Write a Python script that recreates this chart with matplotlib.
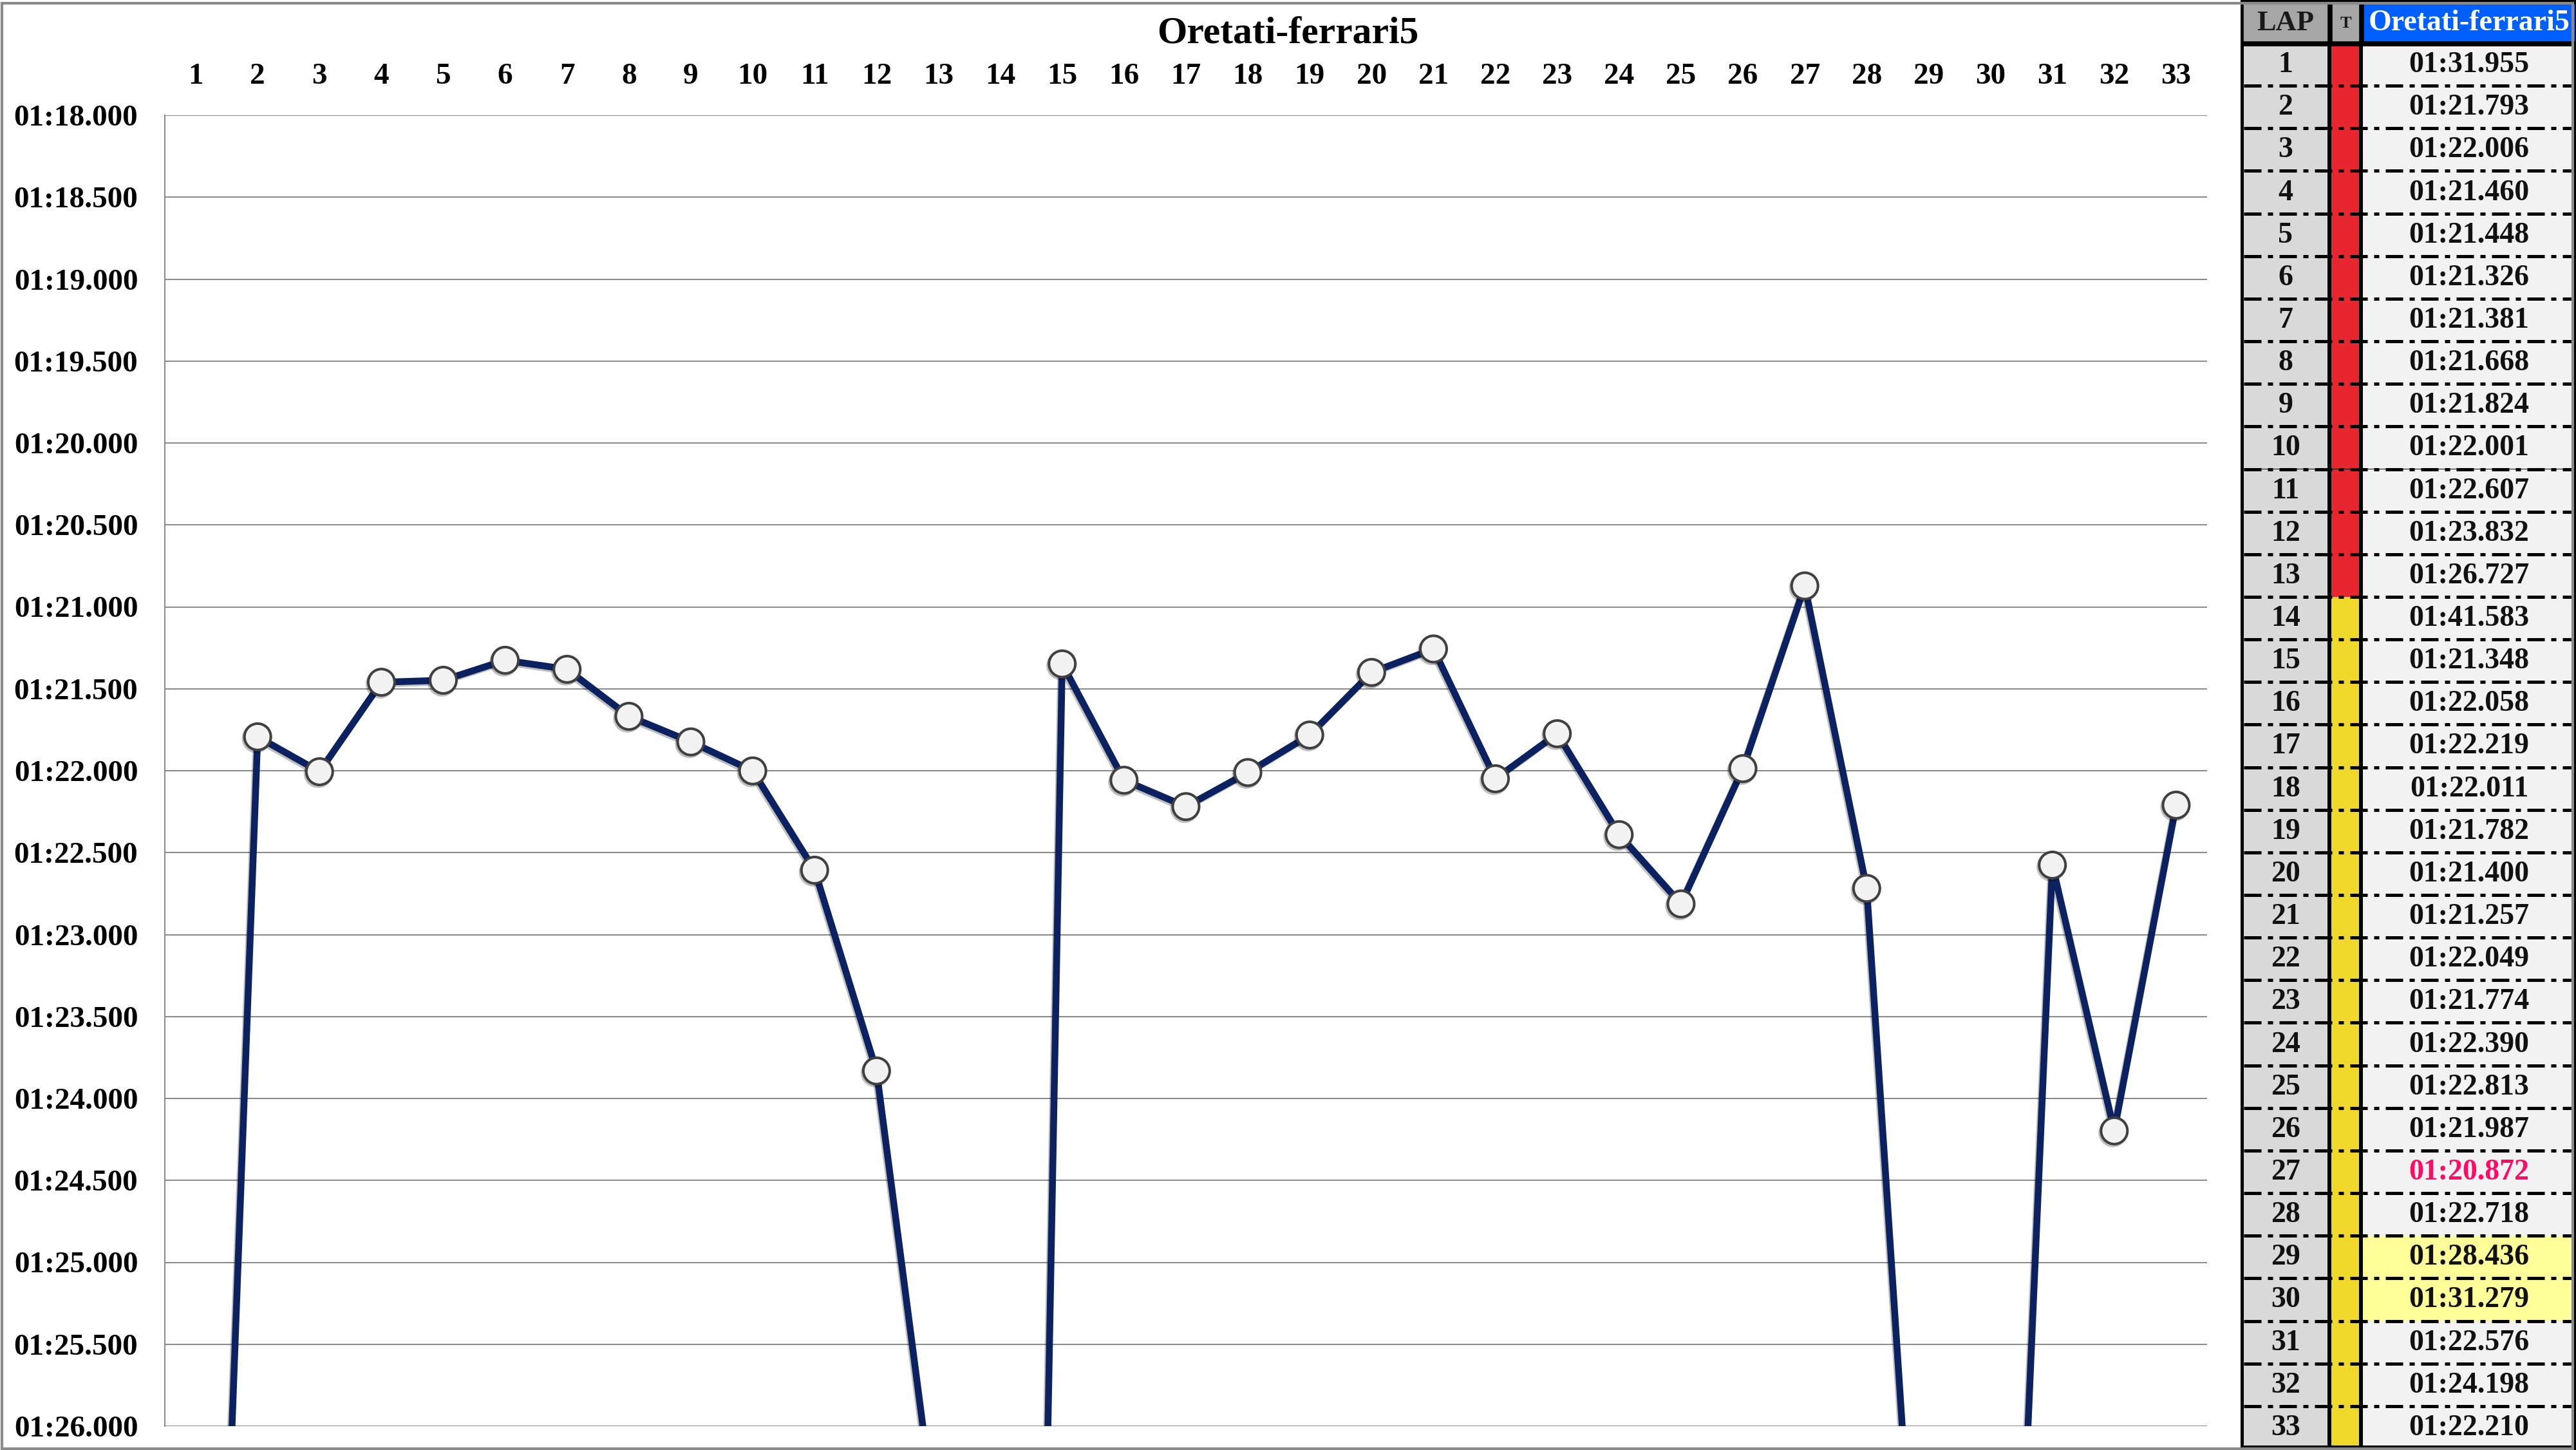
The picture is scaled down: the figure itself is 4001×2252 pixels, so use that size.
import numpy as np
import matplotlib.pyplot as plt
import matplotlib.patheffects as pe
from matplotlib.patches import Rectangle
from matplotlib.ticker import FuncFormatter, MultipleLocator

# lap data as shown in the table
driver = "Oretati-ferrari5"
laps = list(range(1, 34))
lap_times = ["01:31.955", "01:21.793", "01:22.006", "01:21.460", "01:21.448",
             "01:21.326", "01:21.381", "01:21.668", "01:21.824", "01:22.001",
             "01:22.607", "01:23.832", "01:26.727", "01:41.583", "01:21.348",
             "01:22.058", "01:22.219", "01:22.011", "01:21.782", "01:21.400",
             "01:21.257", "01:22.049", "01:21.774", "01:22.390", "01:22.813",
             "01:21.987", "01:20.872", "01:22.718", "01:28.436", "01:31.279",
             "01:22.576", "01:24.198", "01:22.210"]
# tyre stint per lap (R = red, Y = yellow)
tyre = ["R", "R", "R", "R", "R", "R", "R", "R", "R", "R", "R", "R", "R",
        "Y", "Y", "Y", "Y", "Y", "Y", "Y", "Y", "Y", "Y", "Y", "Y", "Y",
        "Y", "Y", "Y", "Y", "Y", "Y", "Y"]
pit_laps = [29, 30]

def to_sec(s):
    m, rest = s.split(":")
    return int(m) * 60 + float(rest)

secs = np.array([to_sec(t) for t in lap_times])
best_lap = laps[int(np.argmin(secs))]

W, H = 4001, 2252
fig = plt.figure(figsize=(W / 100, H / 100), dpi=100)
plt.rcParams['font.family'] = ['Liberation Serif', 'DejaVu Serif']
plt.rcParams['font.weight'] = 'bold'

# outer gray border
fig.patches.append(Rectangle((0.0008, 0.001), 0.998, 0.997, transform=fig.transFigure,
                             fill=False, ec='#8a8a8a', lw=3, zorder=0))

# ---- chart ----
left, right, top, bottom = 256, 3428, 179, 2215
ax = fig.add_axes([left / W, 1 - bottom / H, (right - left) / W, (bottom - top) / H])
ax.plot(laps, secs, color='#0b2160', lw=7.6, marker='o', ms=29.5,
        mfc='#f2f2f2', mec='#404040', mew=2.9, solid_joinstyle='round',
        path_effects=[pe.SimpleLineShadow(offset=(-1.5, -2), alpha=0.25), pe.Normal()])
ax.set_xlim(0.5, 33.5)
ax.set_ylim(86, 78)
ax.yaxis.set_major_locator(MultipleLocator(0.5))
ax.yaxis.set_major_formatter(FuncFormatter(lambda v, p: "01:%06.3f" % (v - 60)))
ax.set_xticks(laps)
ax.xaxis.tick_top()
ax.tick_params(axis='both', length=0, labelsize=34)
ax.tick_params(axis='x', pad=28)
ax.tick_params(axis='y', pad=30)
ax.grid(axis='y', color='#8c8c8c', lw=1.5)
for s in ['top', 'right', 'bottom']:
    ax.spines[s].set_visible(False)
ax.spines['left'].set_color('#8c8c8c')
ax.spines['left'].set_linewidth(1.5)
ax.set_axisbelow(True)

fig.text(2000 / W, 1 - 68 / H, driver, ha='center', va='baseline', fontsize=43,
         fontweight='bold')

# ---- table ----
tx0 = 3480
ta = fig.add_axes([tx0 / W, 0, (W - tx0) / W, 1])
ta.set_xlim(tx0, W)
ta.set_ylim(H, 0)
ta.axis('off')
ta.add_patch(Rectangle((tx0, 0), W - tx0, 2251, color='black'))

cols = [(3485, 3615), (3621, 3664), (3670, 3994)]
hdr_cols = [(3485, 3614), (3623, 3663), (3672, 3998)]
hdr_fc = ['#a6a6a6', '#a6a6a6', '#0060ff']
hdr_txt = ['LAP', 'T', driver]
hdr_tc = ['#1a1a1a', '#1a1a1a', 'white']
hdr_fs = [32, 19, 33]
for (a, b), fc, t, tc, fs in zip(hdr_cols, hdr_fc, hdr_txt, hdr_tc, hdr_fs):
    ta.add_patch(Rectangle((a, 6), b - a, 57, color=fc))
    ta.text((a + b) / 2, 47 if fs > 20 else 43, t, ha='center', va='baseline',
            color=tc, fontsize=fs, fontweight='bold')

row_top, row_h = 67.0, 66.15
tyre_col = {'R': '#e8262f', 'Y': '#f0d82a'}
for i, lap in enumerate(laps):
    y0 = row_top + i * row_h
    y1 = y0 + row_h
    if i == 0:
        y0 = 72
    if i == len(laps) - 1:
        y1 = 2245
    time_fc = '#ffff99' if lap in pit_laps else '#f2f2f2'
    fcs = ['#d9d9d9', tyre_col[tyre[i]], time_fc]
    for (a, b), fc in zip(cols, fcs):
        ta.add_patch(Rectangle((a, y0), b - a, y1 - y0, color=fc, lw=0))
    yc = row_top + (i + 0.5) * row_h + 12
    ta.text((cols[0][0] + cols[0][1]) / 2, yc, str(lap), ha='center', va='baseline',
            fontsize=33, fontweight='bold', color='#111111')
    tc = '#ff0a64' if lap == best_lap else '#111111'
    ta.text((hdr_cols[2][0] + hdr_cols[2][1]) / 2, yc, lap_times[i], ha='center',
            va='baseline', fontsize=33, fontweight='bold', color=tc)

for i in range(1, len(laps)):
    y = row_top + i * row_h
    ta.plot([3485, 3994], [y, y], color='black', lw=3.6,
            linestyle=(0, (5.4, 2.0, 1.6, 2.0)), dash_capstyle='butt')

fig.savefig("out.png", dpi=100)
